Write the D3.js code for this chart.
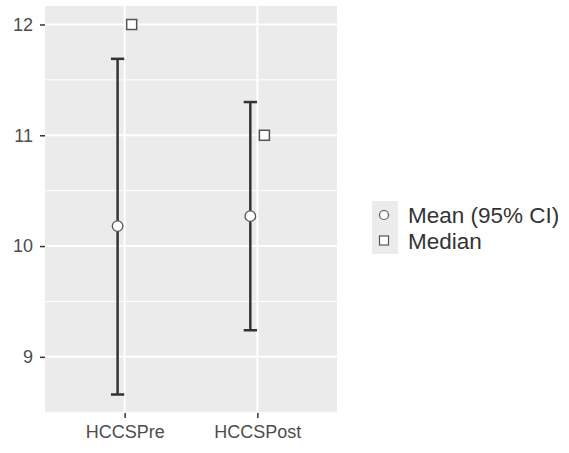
<!DOCTYPE html>
<html>
<head>
<meta charset="utf-8">
<script src="https://cdn.jsdelivr.net/npm/d3@7"></script>
<style>
  body { margin: 0; background: #fff; }
  svg { display: block; font-family: "Liberation Sans", Arial, sans-serif; }
</style>
</head>
<body>
<svg id="drawing_region"></svg>
<script>
var categories = ['HCCSPre', 'HCCSPost'];
var means = [10.18, 10.27];
var ciLow = [8.66, 9.24];
var ciHigh = [11.69, 11.30];
var medians = [12, 11];
var yTicks = [9, 10, 11, 12];
var yMinor = [8.5, 9.5, 10.5, 11.5];
var legendLabels = ['Mean (95% CI)', 'Median'];

var width = 569;
var height = 453;
var panel = {left: 45, right: 337, top: 6, bottom: 413};

var svg = d3.select('#drawing_region')
    .attr('width', width)
    .attr('height', height);

// x: discrete, ggplot-style 0.6 expansion
const xscale = d3.scalePoint()
      .domain(categories)
      .range([panel.left, panel.right])
      .padding(0.6);
const step = xscale.step();

// y: continuous, 5% expansion around data range
const lo = d3.min(ciLow), hi = d3.max(medians.concat(ciHigh));
const pad = (hi - lo) * 0.05;
const yscale = d3.scaleLinear()
      .domain([lo - pad, hi + pad])
      .range([panel.bottom, panel.top]);

// panel background
svg.append('rect')
    .attr('x', panel.left).attr('y', panel.top)
    .attr('width', panel.right - panel.left)
    .attr('height', panel.bottom - panel.top)
    .attr('fill', '#EBEBEB');

// grid lines
svg.selectAll('.minor').data(yMinor).enter().append('line')
    .attr('x1', panel.left).attr('x2', panel.right)
    .attr('y1', d => yscale(d)).attr('y2', d => yscale(d))
    .attr('stroke', '#fff').attr('stroke-width', 1);
svg.selectAll('.major').data(yTicks).enter().append('line')
    .attr('x1', panel.left).attr('x2', panel.right)
    .attr('y1', d => yscale(d)).attr('y2', d => yscale(d))
    .attr('stroke', '#fff').attr('stroke-width', 2);
svg.selectAll('.vmajor').data(categories).enter().append('line')
    .attr('x1', d => xscale(d)).attr('x2', d => xscale(d))
    .attr('y1', panel.top).attr('y2', panel.bottom)
    .attr('stroke', '#fff').attr('stroke-width', 2);

// axes
const yaxis = d3.axisLeft(yscale).tickValues(yTicks).tickFormat(d3.format('d'))
      .tickSize(5).tickPadding(7);
const yaxis_group = svg.append('g')
      .attr('transform', `translate(${panel.left}, 0)`)
      .call(yaxis);
const xaxis = d3.axisBottom(xscale).tickSize(5).tickPadding(7);
const xaxis_group = svg.append('g')
      .attr('transform', `translate(0, ${panel.bottom})`)
      .call(xaxis);
[yaxis_group, xaxis_group].forEach(g => {
  g.select('.domain').remove();
  g.selectAll('.tick line').attr('stroke', '#333').attr('stroke-width', 1.5);
  g.selectAll('.tick text').attr('fill', '#4D4D4D').style('font-size', '18px')
    .style('font-family', '"Liberation Sans", Arial, sans-serif');
});

// error bars + means (dodged left), medians (dodged right)
const dodge = 0.053 * step;
const capHalf = 0.05 * step;
const idx = d3.range(categories.length);
const bars = svg.append('g').attr('stroke', '#333').attr('stroke-width', 2.5);
idx.forEach(i => {
  const cx = xscale(categories[i]) - dodge;
  bars.append('line').attr('x1', cx).attr('x2', cx)
      .attr('y1', yscale(ciLow[i])).attr('y2', yscale(ciHigh[i]));
  bars.append('line').attr('x1', cx - capHalf).attr('x2', cx + capHalf)
      .attr('y1', yscale(ciLow[i])).attr('y2', yscale(ciLow[i]));
  bars.append('line').attr('x1', cx - capHalf).attr('x2', cx + capHalf)
      .attr('y1', yscale(ciHigh[i])).attr('y2', yscale(ciHigh[i]));
});
svg.selectAll('.mean').data(idx).enter().append('circle')
    .attr('cx', i => xscale(categories[i]) - dodge)
    .attr('cy', i => yscale(means[i]))
    .attr('r', 5.3)
    .attr('fill', '#fff').attr('stroke', '#555').attr('stroke-width', 1.3);
svg.selectAll('.median').data(idx).enter().append('rect')
    .attr('x', i => xscale(categories[i]) + dodge - 5)
    .attr('y', i => yscale(medians[i]) - 5)
    .attr('width', 10).attr('height', 10)
    .attr('fill', '#fff').attr('stroke', '#555').attr('stroke-width', 1.5);

// legend
const legend = svg.append('g').attr('transform', 'translate(372, 201)');
legend.append('rect').attr('width', 26).attr('height', 53).attr('fill', '#EBEBEB');
legend.append('circle').attr('cx', 12).attr('cy', 14).attr('r', 4.5)
    .attr('fill', '#fff').attr('stroke', '#555').attr('stroke-width', 1.2);
legend.append('rect').attr('x', 7.5).attr('y', 35).attr('width', 9).attr('height', 9)
    .attr('fill', '#fff').attr('stroke', '#555').attr('stroke-width', 1.2);
legend.selectAll('.lab').data(legendLabels).enter().append('text')
    .attr('x', 36)
    .attr('y', (d, i) => 22 + i * 26)
    .attr('fill', '#333')
    .style('font-size', '22.5px')
    .text(d => d);
</script>
</body>
</html>
